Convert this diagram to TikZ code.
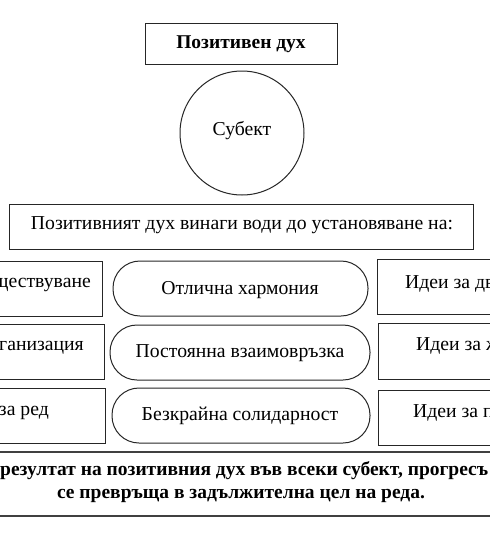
\documentclass[tikz,border=0pt]{standalone}
\usepackage{fontspec}
\setmainfont{Liberation Serif}
\begin{document}
\begin{tikzpicture}[x=1pt,y=-1pt,
  box/.style={draw=black!85,line width=1pt,inner sep=0pt,outer sep=0pt},
  stadium/.style={box,rounded corners=27pt},
  txt/.style={inner sep=0pt,font=\fontsize{19.7}{23}\selectfont},
  btxt/.style={inner sep=0pt,font=\fontsize{19.5}{23}\selectfont\bfseries},
  rule/.style={draw=black!75,line width=1.6pt}]
\useasboundingbox (0,0) rectangle (490,550);
\clip (0,0) rectangle (490,550);
% top
\node[box,minimum width=192pt,minimum height=41pt] (top) at (241,43.5) {};
\node[btxt] (toptxt) at (241,44) {Позитивен дух};
\node[draw=black!85,line width=1pt,circle,minimum size=124pt,inner sep=0pt] (subj) at (242,133) {};
\node[txt] (subjtxt) at (242,131) {Субект};
% wide box
\node[box,minimum width=464pt,minimum height=45pt] (wide) at (241,226.5) {};
\node[txt] (widetxt) at (242,225) {Позитивният дух винаги води до установяване на:};
% left boxes
\node[box,minimum width=110pt,minimum height=55pt] (l1) at (47,288.5) {};
\node[box,minimum width=112pt,minimum height=55pt] (l2) at (48,352) {};
\node[box,minimum width=112pt,minimum height=55pt] (l3) at (49,415.5) {};
\node[txt,anchor=east] (l1t) at (91,285) {ществуване};
\node[txt,anchor=east] (l2t) at (84,348) {ганизация};
\node[txt,anchor=east] (l3t) at (49,413) {за ред};
% middle stadiums
\node[stadium,minimum width=255pt,minimum height=55pt] (m1) at (240.5,288.5) {};
\node[stadium,minimum width=260pt,minimum height=55pt] (m2) at (240,352.5) {};
\node[stadium,minimum width=258pt,minimum height=55pt] (m3) at (241,415.5) {};
\node[txt] (m1t) at (240,290) {Отлична хармония};
\node[txt] (m2t) at (240,353) {Постоянна взаимовръзка};
\node[txt] (m3t) at (240,416) {Безкрайна солидарност};
% right boxes
\node[box,minimum width=130pt,minimum height=55pt] (r1) at (442,286.5) {};
\node[box,minimum width=130pt,minimum height=56pt] (r2) at (443,351) {};
\node[box,minimum width=130pt,minimum height=55pt] (r3) at (443,417.5) {};
\node[txt,anchor=west] (r1t) at (405,284) {Идеи за дв};
\node[txt,anchor=west] (r2t) at (416,346) {Идеи за ж};
\node[txt,anchor=west] (r3t) at (413,413) {Идеи за п};
% bottom band
\coordinate (b1l) at (-5,452);
\coordinate (b1r) at (495,452);
\coordinate (b2l) at (-5,516);
\coordinate (b2r) at (495,516);
\draw[rule] (b1l) -- (b1r);
\draw[rule] (b2l) -- (b2r);
\node[btxt,anchor=west] (bt1) at (0,471) {резултат на позитивния дух във всеки субект, прогресъ};
\node[btxt] (bt2) at (241,496) {се превръща в задължителна цел на реда.};
\end{tikzpicture}
\end{document}
